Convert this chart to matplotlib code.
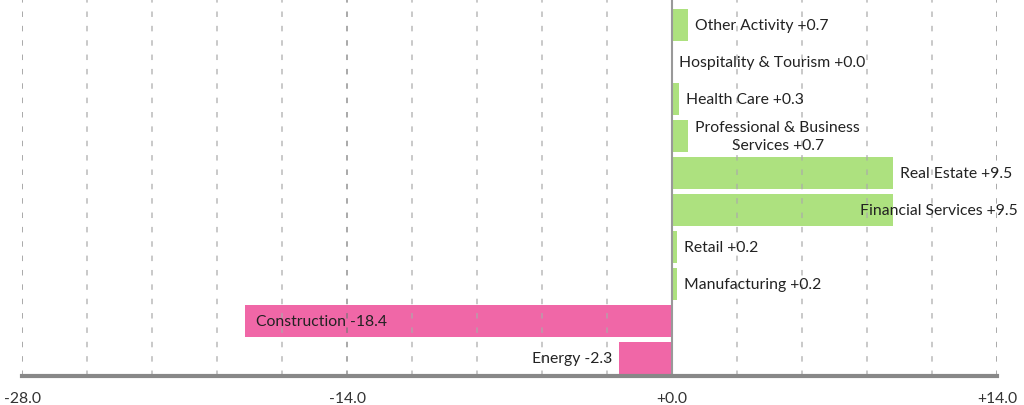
"""Horizontal bar chart of sector changes, positive in green and negative in pink."""

import matplotlib

matplotlib.use("Agg")
import matplotlib.pyplot as plt
import numpy as np

plt.rcParams["font.family"] = ["Lato", "DejaVu Sans"]

# data, bottom to top
sectors = [
    "Energy",
    "Construction",
    "Manufacturing",
    "Retail",
    "Financial Services",
    "Real Estate",
    "Professional & Business\nServices",
    "Health Care",
    "Hospitality & Tourism",
    "Other Activity",
]
changes = [-2.3, -18.4, 0.2, 0.2, 9.5, 9.5, 0.7, 0.3, 0.0, 0.7]
x_ticks = [-28.0, -14.0, 0.0, 14.0]
x_tick_labels = ["-28.0", "-14.0", "+0.0", "+14.0"]

GREEN = "#ade17f"
PINK = "#f067a7"
TEXT = "#222222"
FS = 11.3

fig = plt.figure(figsize=(10.24, 4.06), dpi=100)
ax = fig.add_axes([22 / 1024, 29 / 406, 975 / 1024, 377 / 406])

y = np.arange(len(sectors))
colors = [GREEN if v >= 0 else PINK for v in changes]
ax.barh(y, changes, height=0.86, color=colors, zorder=2)

ax.set_xlim(-28, 14)
ax.set_ylim(-0.49, 9.7)

# dashed grid every 2.8, darker at the labelled ticks
for gx in np.linspace(-28, 14, 16):
    major = any(abs(gx - t) < 1e-6 for t in x_ticks)
    ax.axvline(gx, color="#777777" if major else "#aaaaaa", lw=1.1,
               dashes=(3.6, 5.8), alpha=0.8, zorder=3)
ax.axvline(0, color="#999999", lw=1.5, zorder=4)

for s in ["top", "right", "left"]:
    ax.spines[s].set_visible(False)
ax.spines["bottom"].set_color("#888888")
ax.spines["bottom"].set_linewidth(3)
ax.spines["bottom"].set_zorder(5)

ax.set_yticks([])
ax.set_xticks(x_ticks)
ax.set_xticklabels(x_tick_labels, fontsize=FS, color="#333333")
ax.tick_params(axis="x", length=0, pad=11)

fig.canvas.draw()
renderer = fig.canvas.get_renderer()
px = ax.transData.transform
for yi, (name, v) in enumerate(zip(sectors, changes)):
    label = f"{name} {v:+.1f}"
    if v >= 0:
        t = ax.annotate(label, (v, yi), xytext=(7, 0), textcoords="offset pixels",
                        ha="left", va="center", multialignment="center",
                        linespacing=1.3, fontsize=FS, color=TEXT, zorder=6)
        bb = t.get_window_extent(renderer)
        if bb.x1 > fig.bbox.width - 6:
            t.set_position((-(bb.x1 - fig.bbox.width + 6) + 7, 0))
    else:
        bar_px = abs(px((v, 0))[0] - px((0, 0))[0])
        if bar_px > 200:
            ax.annotate(label, (v, yi), xytext=(11, 0), textcoords="offset pixels",
                        ha="left", va="center", fontsize=FS, color=TEXT, zorder=6)
        else:
            ax.annotate(label, (v, yi), xytext=(-6, 0), textcoords="offset pixels",
                        ha="right", va="center", fontsize=FS, color=TEXT, zorder=6)

fig.savefig("out.png", dpi=100)
